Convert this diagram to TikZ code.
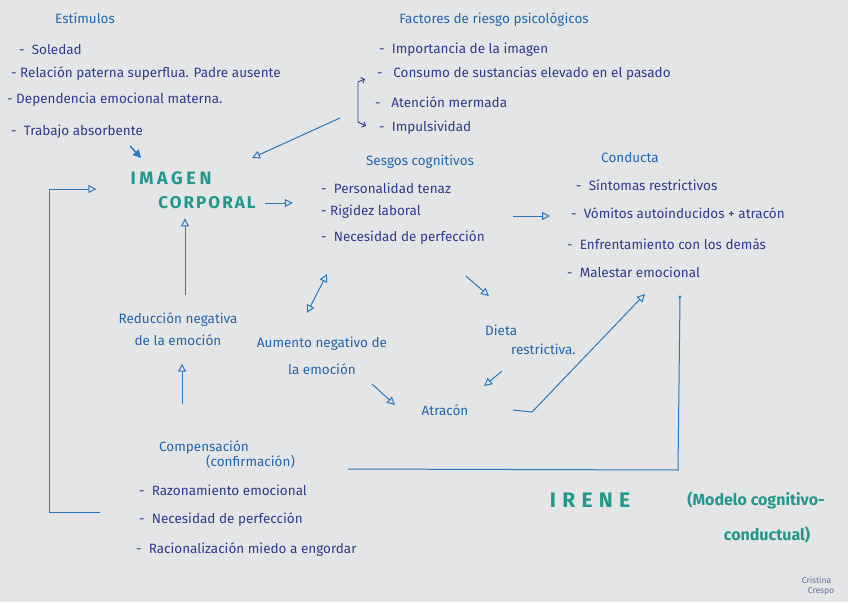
\documentclass[tikz,border=0pt]{standalone}
\usepackage{fontspec}
\setmainfont{Fira Sans}
\usepackage{xcolor}
\usetikzlibrary{arrows.meta, positioning}
\definecolor{cbpaper}{HTML}{E3E5E6}
\definecolor{cbink}{HTML}{2F3B8E}
\definecolor{cbhead}{HTML}{2466AE}
\definecolor{cbarrow}{HTML}{2B78BE}
\definecolor{cbteal}{HTML}{23978C}
\definecolor{cbsign}{HTML}{6A6E9C}

\begin{document}
\begin{tikzpicture}[
  x=1pt, y=-1pt,
  item/.style={anchor=west, inner sep=1pt, text=cbink, font=\fontsize{13.5}{16}\selectfont},
  head/.style={inner sep=1pt, text=cbhead, font=\fontsize{13.5}{16}\selectfont},
  label/.style={inner sep=1pt, text=cbhead, align=#1, font=\fontsize{13.5}{22}\selectfont},
  label/.default=center,
  big/.style n args={2}{inner sep=1pt, text=cbteal, font=\fontsize{#1}{#1}\selectfont\bfseries\addfontfeature{LetterSpace=#2}},
  model/.style={inner sep=1pt, text=cbteal, font=\fontsize{16}{18}\selectfont\bfseries},
  link/.style={-{Triangle[open, length=8pt, width=8pt]}, line width=1pt, cbarrow},
  link2/.style={{Triangle[open, length=8pt, width=8pt]}-{Triangle[open, length=8pt, width=8pt]}, line width=1pt, cbarrow},
  plain/.style={line width=1pt, cbarrow},
]
  \fill[cbpaper] (0,0) rectangle (848,602);
  \useasboundingbox (0,0) rectangle (848,602);

  % Estimulos
  \node[head] (estimulos) at (85,18) {Estímulos};
  \node[item] (est1) at (18,50) {- \ Soledad};
  \node[item] (est2) at (10,74) {- Relación paterna superflua. Padre ausente};
  \node[item] (est3) at (6,100) {- Dependencia emocional materna.};
  \node[item] (est4) at (10,132) {- \ Trabajo absorbente};

  % Factores de riesgo
  \node[head] (factores) at (494,20) {Factores de riesgo psicológicos};
  \node[item] (fac1) at (378,50) {- \ Importancia de la imagen};
  \node[item] (fac2) at (376,74) {- \ \ Consumo de sustancias elevado en el pasado};
  \node[item] (fac3) at (374,102) {- \ \ Atención mermada};
  \node[item] (fac4) at (378,128) {- \ Impulsividad};

  % Imagen corporal
  \node[big={18}{20}] (imagen) at (171,178) {IMAGEN};
  \node[big={17}{12}] (corporal) at (207,203) {CORPORAL};

  % Sesgos cognitivos
  \node[head] (sesgos) at (420,162) {Sesgos cognitivos};
  \node[item] (ses1) at (320,188) {- \ Personalidad tenaz};
  \node[item] (ses2) at (320,212) {- Rigidez laboral};
  \node[item] (ses3) at (320,238) {- \ Necesidad de perfección};

  % Conducta
  \node[head] (conducta) at (630,158) {Conducta};
  \node[item] (con1) at (575,185) {- \ Síntomas restrictivos};
  \node[item] (con2) at (570,213) {- \ Vómitos autoinducidos + atracón};
  \node[item] (con3) at (566,244) {- \ Enfrentamiento con los demás};
  \node[item] (con4) at (566,272) {- \ Malestar emocional};

  % Ciclo
  \node[label] (reduccion) at (178,329) {Reducción negativa\\de la emoción};
  \node[label] (aumento) at (322,356) {Aumento negativo de\\[5pt]la emoción};
  \node[label=left, anchor=west] (dieta) at (484,340) {Dieta\\[-3pt]\hspace{26pt}restrictiva.};
  \node[head] (atracon) at (445,410) {Atracón};

  % Compensacion
  \node[label=left, anchor=west, font=\fontsize{13.5}{15}\selectfont] (compensacion) at (158,455) {Compensación\\\hspace{47pt}(confirmación)};
  \node[item] (com1) at (138,490) {- \ Razonamiento emocional};
  \node[item] (com2) at (138,520) {- \ Necesidad de perfección};
  \node[item] (com3) at (135,550) {- \ Racionalización miedo a engordar};

  % Irene
  \node[big={21}{30}] (irene) at (590,500) {IRENE};
  \node[model] (modelo) at (756,500) {(Modelo cognitivo-};
  \node[model] (conductual) at (767,535) {conductual)};
  \node[inner sep=1pt, text=cbsign, font=\fontsize{8.5}{10}\selectfont, align=left] (firma) at (818,586) {Cristina\\\hspace{6pt}Crespo};

  % free ends
  \coordinate (facout) at (340,118);
  \coordinate (loopin) at (100,512);
  \coordinate (lineout) at (348,469);

  % connectors
  \draw[-{Triangle[length=8pt, width=8pt]}, line width=1.4pt, cbarrow] ([shift={(53,6)}]est4.south) -- ([shift={(-30,-20)}]imagen.center);
  \draw[link] (facout) -- ([shift={(81,-20)}]imagen.center);
  \draw[{Straight Barb[length=3pt]}-{Straight Barb[length=3pt]}, line width=0.9pt, cbink]
    ([shift={(-11,5)}]fac2.west) -- ([shift={(-18,8)}]fac2.west) -- ([shift={(-20,-6)}]fac4.west) -- ([shift={(-12,-2)}]fac4.west);
  \draw[link] ([xshift=8]corporal.east) -- ++(28,0);
  \draw[link] ([shift={(7,-16)}]reduccion.north) -- ([shift={(-22,8)}]corporal.south);
  \draw[link] ([shift={(193,4)}]ses2.west) -- ([shift={(-20,3)}]con2.west);
  \draw[link2] ([shift={(7,36)}]ses3.west) -- ([shift={(-15,-23)}]aumento.north);
  \draw[link] ([shift={(63,30)}]ses3.south) -- ([shift={(86,50)}]ses3.south);
  \draw[link] ([shift={(18,15)}]dieta.south west) -- ([shift={(0,30)}]dieta.south west);
  \draw[link] ([shift={(50,8)}]aumento.south) -- ([shift={(-50,-5)}]atracon.center);
  \draw[link] ([xshift=68]atracon.center) -- ([xshift=87,yshift=-2]atracon.center) -- ([shift={(79,22)}]con4.west);
  \draw[link] ([shift={(24,-36)}]compensacion.north west) -- ([shift={(4,17)}]reduccion.south);
  \draw[plain] ([shift={(114,25)}]con4.west) -- ([shift={(112,198)}]con4.west) -- (lineout);
  \fill[cbarrow] ([shift={(114,25)}]con4.west) circle (1.6pt);
  \draw[link] (loopin) -- (49,512) -- (49,189) -- ([shift={(-33,11)}]imagen.west);
\end{tikzpicture}
\end{document}
